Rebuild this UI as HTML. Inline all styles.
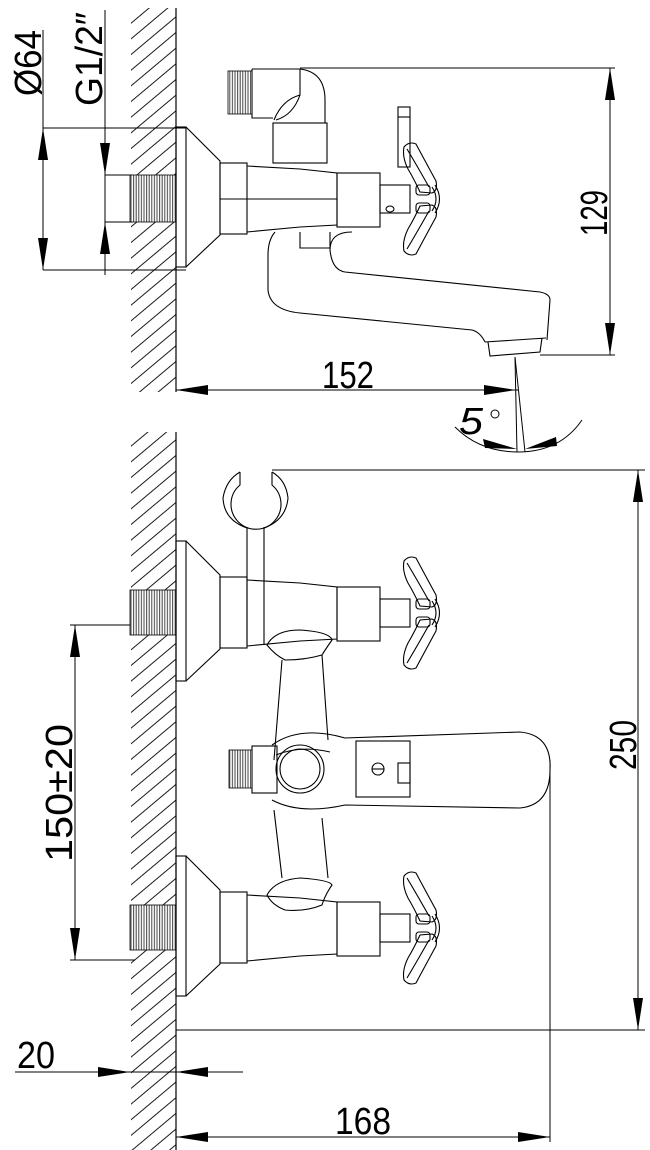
<!DOCTYPE html>
<html><head><meta charset="utf-8"><style>
html,body{margin:0;padding:0;background:#fff;width:650px;height:1150px;overflow:hidden}
svg{display:block}
text{font-family:"Liberation Sans",sans-serif;fill:#000}
</style></head><body>
<svg width="650" height="1150" viewBox="0 0 650 1150" xmlns="http://www.w3.org/2000/svg">
<defs>
<pattern id="h" width="12" height="12" patternUnits="userSpaceOnUse" patternTransform="rotate(-40)">
<line x1="0" y1="6" x2="12" y2="6" stroke="#000" stroke-width="0.9"/>
</pattern>
<pattern id="th" width="2.6" height="10" patternUnits="userSpaceOnUse">
<rect width="2.6" height="10" fill="#fff"/>
<line x1="1" y1="0" x2="1" y2="10" stroke="#444" stroke-width="1"/>
</pattern>
<g id="handle" fill="none" stroke="#000" stroke-width="1.1">
<path d="M0 -52 Q5 -58 12 -55 Q20 -40 32 -18 Q34 -8 28 -6 L16 -7 Q10 -20 4 -30 Q-2 -42 0 -52Z"/>
<path d="M0 52 Q5 58 12 55 Q20 40 32 18 Q34 8 28 6 L16 7 Q10 20 4 30 Q-2 42 0 52Z"/>
<path d="M3 -50 Q12 -35 25 -12 M3 50 Q12 35 25 12"/>
<path d="M28 -12 Q36 0 28 12 M31 -14 Q40 0 31 14"/>
<rect x="12" y="-14" width="14" height="10" rx="3"/><rect x="12" y="4" width="14" height="10" rx="3"/>
</g>
<g id="valve" fill="none" stroke="#000" stroke-width="1.1">
<rect x="176" y="-72" width="10" height="140"/>
<path d="M186 -72 L220 -38 L220 36 L186 68"/>
<rect x="220" y="-36" width="27" height="71"/>
<path d="M247 -33 L300 -30 L337 -26 L337 26 L300 28 L247 33"/>
<rect x="337" y="-26" width="43" height="54"/>
<rect x="380" y="-14" width="30" height="28"/>
<use href="#handle" x="404" y="0"/>
</g>
</defs>

<rect x="131" y="8" width="45" height="384" fill="url(#h)"/>
<rect x="131" y="432" width="45" height="718" fill="url(#h)"/>
<line x1="176" y1="8" x2="176" y2="392" stroke="#000" stroke-width="1.2"/>
<line x1="176" y1="432" x2="176" y2="1150" stroke="#000" stroke-width="1.2"/>

<g stroke="#000" stroke-width="1" fill="none">
<line x1="43" y1="30" x2="43" y2="270"/>
<line x1="43" y1="128" x2="186" y2="128"/>
<line x1="43" y1="270" x2="186" y2="270"/>
<line x1="105" y1="10" x2="105" y2="275"/>
<line x1="105" y1="175" x2="133" y2="175"/>
<line x1="105" y1="222" x2="133" y2="222"/>
<line x1="300" y1="68" x2="615" y2="68"/>
<line x1="540" y1="355" x2="615" y2="355"/>
<line x1="610" y1="68" x2="610" y2="355"/>
<line x1="176" y1="390" x2="518" y2="390"/>
<line x1="515" y1="357" x2="517" y2="452"/>
<line x1="515" y1="357" x2="525" y2="452"/>
<path d="M455 427 Q480 452 518 452 Q560 452 582 420"/>
</g>
<g fill="#000">
<path d="M43 128 L38 160 L48 160Z"/><path d="M43 270 L38 238 L48 238Z"/>
<path d="M105 175 L100 143 L110 143Z"/><path d="M105 222 L100 254 L110 254Z"/>
<path d="M610 68 L605 100 L615 100Z"/><path d="M610 355 L605 323 L615 323Z"/>
<path d="M176 390 L208 385 L208 395Z"/><path d="M516 390 L484 385 L484 395Z"/>
<path d="M517 449 L483 439 L485 448Z"/><path d="M525 449 L556 437 L557 446Z"/>
</g>
<text transform="translate(41,96) rotate(-90)" font-size="38" textLength="66" lengthAdjust="spacingAndGlyphs">Ø64</text>
<text transform="translate(102,106) rotate(-90)" font-size="38" textLength="94" lengthAdjust="spacingAndGlyphs">G1/2″</text>
<text transform="translate(607,236) rotate(-90)" font-size="38" textLength="46" lengthAdjust="spacingAndGlyphs">129</text>
<text x="322" y="388" font-size="38" textLength="52" lengthAdjust="spacingAndGlyphs">152</text>
<text x="459" y="434" font-size="38" font-style="italic" textLength="24" lengthAdjust="spacingAndGlyphs">5</text>
<circle cx="495" cy="414" r="4" fill="none" stroke="#000"/>

<rect x="130" y="175" width="46" height="47" fill="url(#th)" stroke="#000" stroke-width="0.8"/>
<use href="#valve" x="0" y="199"/>
<line x1="220" y1="199" x2="337" y2="199" stroke="#000"/>
<g fill="none" stroke="#000" stroke-width="1.1">
<rect x="273" y="123" width="54" height="40"/>
<path d="M252 69 L300 69 Q325 72 325 100 L325 123"/>
<path d="M252 69 L252 118 L273 118"/>
<path d="M300 69 L300 95 Q282 100 274 120 M300 95 Q293 115 276 120"/>
<rect x="398" y="107" width="12" height="60"/>
<line x1="398" y1="117" x2="410" y2="117"/>
<path d="M275 232 Q268 240 268 255 L268 290 Q270 310 300 313 L472 330 Q480 332 485 342"/>
<path d="M300 232 L300 248 L330 248 L330 232"/>
<path d="M352 232 Q330 232 330 250 Q332 270 345 272 L540 292 Q550 294 550 300 L547 340"/>
<path d="M485 342 L546 338 M488 342 L490 356 L540 352 L542 338"/>
<ellipse cx="390" cy="209" rx="4" ry="3"/>
</g>
<rect x="228" y="71" width="24" height="43" fill="url(#th)" stroke="#000" stroke-width="0.8"/>

<g stroke="#000" stroke-width="1" fill="none">
<line x1="272" y1="470" x2="645" y2="470"/>
<line x1="176" y1="1030" x2="645" y2="1030"/>
<line x1="638" y1="470" x2="638" y2="1030"/>
<line x1="70" y1="625" x2="135" y2="625"/>
<line x1="70" y1="960" x2="135" y2="960"/>
<line x1="75" y1="625" x2="75" y2="960"/>
<line x1="15" y1="1072" x2="243" y2="1072"/>
<line x1="550" y1="760" x2="550" y2="1142"/>
<line x1="176" y1="1137" x2="550" y2="1137"/>
</g>
<g fill="#000">
<path d="M638 470 L633 502 L643 502Z"/><path d="M638 1030 L633 998 L643 998Z"/>
<path d="M75 625 L70 657 L80 657Z"/><path d="M75 960 L70 928 L80 928Z"/>
<path d="M130 1072 L98 1067 L98 1077Z"/><path d="M176 1072 L208 1067 L208 1077Z"/>
<path d="M176 1137 L208 1132 L208 1142Z"/><path d="M550 1137 L518 1132 L518 1142Z"/>
</g>
<text transform="translate(636,770) rotate(-90)" font-size="38" textLength="50" lengthAdjust="spacingAndGlyphs">250</text>
<text transform="translate(72,862) rotate(-90)" font-size="38" textLength="138" lengthAdjust="spacingAndGlyphs">150±20</text>
<text x="17" y="1068" font-size="38" textLength="38" lengthAdjust="spacingAndGlyphs">20</text>
<text x="335" y="1134" font-size="38" textLength="56" lengthAdjust="spacingAndGlyphs">168</text>

<rect x="130" y="590" width="46" height="45" fill="url(#th)" stroke="#000" stroke-width="0.8"/>
<rect x="130" y="905" width="46" height="45" fill="url(#th)" stroke="#000" stroke-width="0.8"/>
<use href="#valve" x="0" y="613"/>
<use href="#valve" x="0" y="928"/>
<g fill="none" stroke="#000" stroke-width="1.1">
<path d="M240 472 L240 485 A25 25 0 1 0 272 485 L272 472"/>
<path d="M240 472 Q226 480 223 498 Q224 520 247 528 M272 472 Q286 480 288 498 Q286 520 264 528"/>
<line x1="247" y1="527" x2="247" y2="645"/>
<line x1="264" y1="527" x2="264" y2="645"/>
<path d="M267 645 Q275 630 300 630 Q330 632 332 640 Q325 650 322 655 Q305 660 285 660 Q275 655 267 645Z"/>
<path d="M282 660 L274 760 M322 655 L328 740"/>
<path d="M272 745 Q300 725 345 738 L520 732 Q552 735 550 770 Q550 805 520 808 L345 805 Q300 815 272 800"/>
<path d="M276 755 Q300 745 330 752"/>
<rect x="252" y="746" width="25" height="47"/>
<circle cx="300" cy="769" r="24"/><circle cx="300" cy="769" r="20"/>
<rect x="356" y="741" width="54" height="56"/>
<circle cx="378" cy="769" r="6"/><line x1="372" y1="769" x2="384" y2="769"/>
<rect x="398" y="763" width="12" height="20"/>
<path d="M274 810 L282 878 M322 818 L328 878"/>
<path d="M267 895 Q275 880 300 878 Q330 880 332 885 Q325 895 322 905 Q305 912 285 910 Q272 905 267 895Z"/>
</g>
<rect x="229" y="750" width="23" height="38" fill="url(#th)" stroke="#000" stroke-width="0.8"/>
</svg>
</body></html>
